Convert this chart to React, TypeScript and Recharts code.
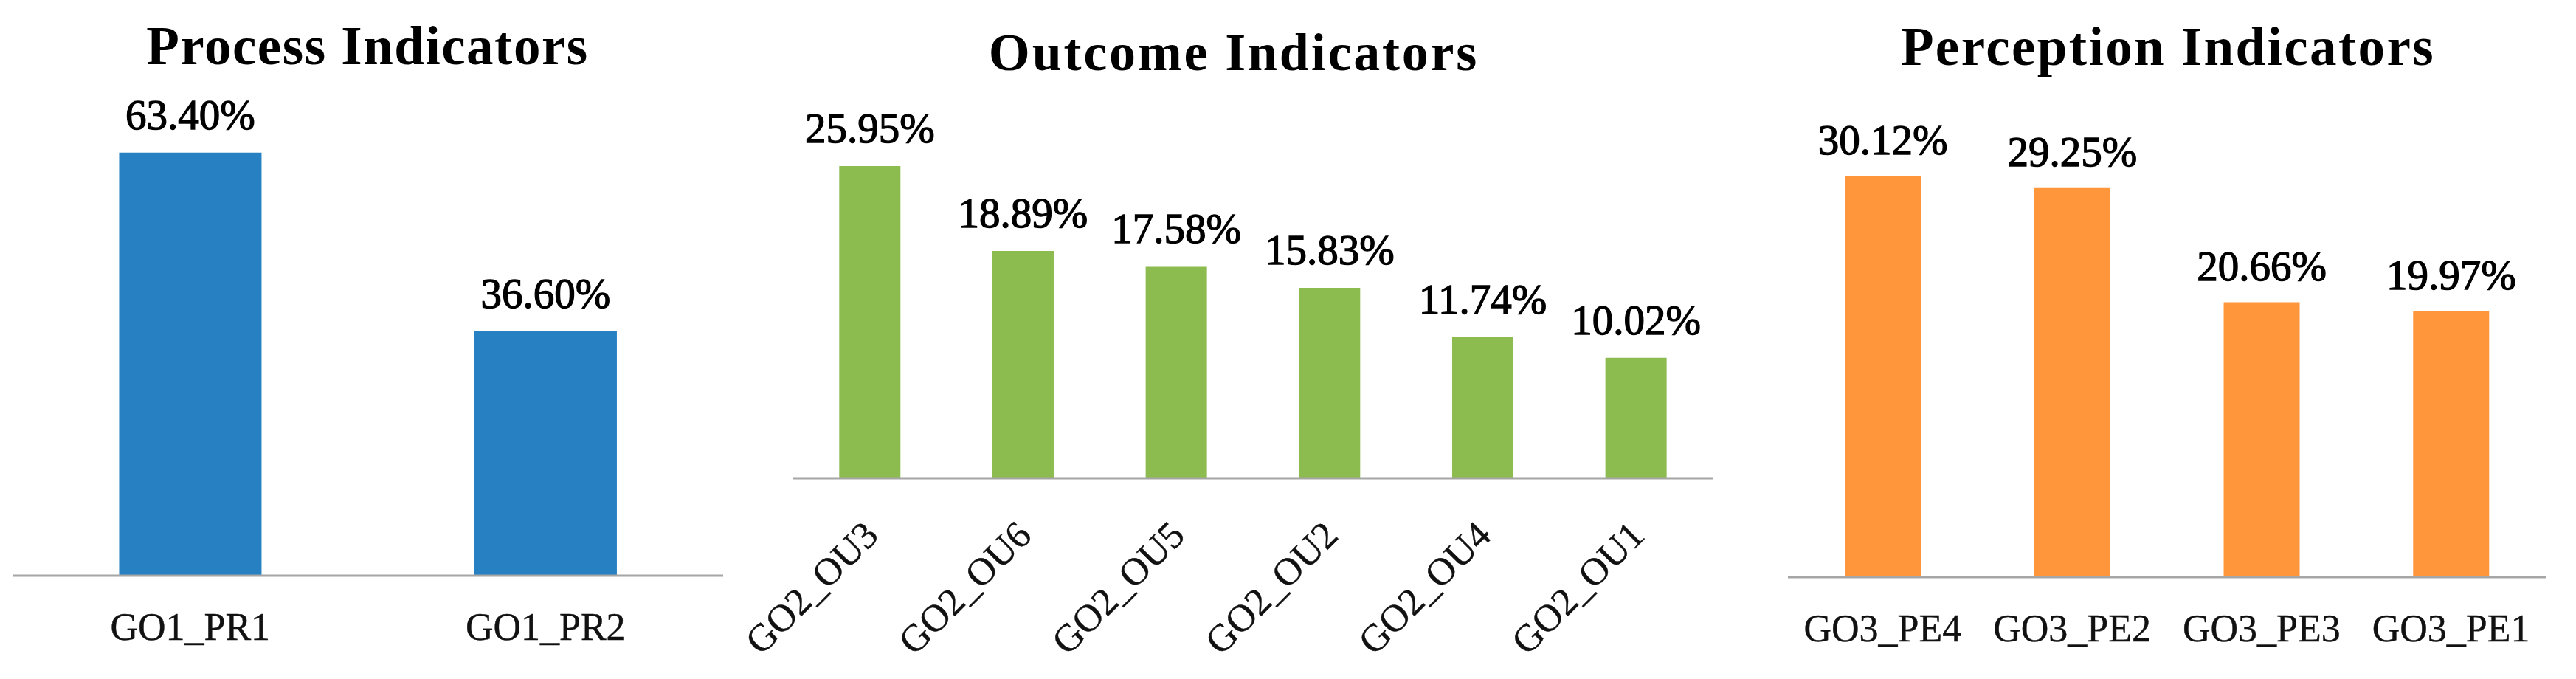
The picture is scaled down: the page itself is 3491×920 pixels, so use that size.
import React from 'react';
import { BarChart, Bar, XAxis, YAxis } from 'recharts';

// ---- Data ----
const processCategories = ['GO1_PR1', 'GO1_PR2'];
const processValues = [63.4, 36.6];

const outcomeCategories = ['GO2_OU3', 'GO2_OU6', 'GO2_OU5', 'GO2_OU2', 'GO2_OU4', 'GO2_OU1'];
const outcomeValues = [25.95, 18.89, 17.58, 15.83, 11.74, 10.02];

const perceptionCategories = ['GO3_PE4', 'GO3_PE2', 'GO3_PE3', 'GO3_PE1'];
const perceptionValues = [30.12, 29.25, 20.66, 19.97];

const titles = ['Process Indicators', 'Outcome Indicators', 'Perception Indicators'];

const build = (cats: string[], vals: number[]) => cats.map((c, i) => ({ name: c, value: vals[i] }));

const processData = build(processCategories, processValues);
const outcomeData = build(outcomeCategories, outcomeValues);
const perceptionData = build(perceptionCategories, perceptionValues);

const FONT = '"Liberation Serif", "Times New Roman", serif';
const AXIS_COLOR = '#A6A6A6';

const FlatTick = (props: any) => {
  const { x, y, payload } = props;
  return (
    <text
      x={Number(x)}
      y={Number(y) + 87}
      textAnchor="middle"
      fontFamily={FONT}
      fontSize={52}
      fill="#111"
      stroke="#111"
      strokeWidth={0.4}
    >
      {payload.value}
    </text>
  );
};

const RotTick = (props: any) => {
  const { x, y, payload } = props;
  const ax = Number(x) + 14;
  const ay = Number(y) + 80;
  return (
    <text
      x={ax}
      y={ay}
      transform={`rotate(-45 ${ax} ${ay})`}
      textAnchor="end"
      fontFamily={FONT}
      fontSize={52}
      fill="#111"
      stroke="#111"
      strokeWidth={0.4}
    >
      {payload.value}
    </text>
  );
};

const makeLabel = (gap: number) => (props: any) => {
  const { x, y, width, value } = props;
  return (
    <text
      x={Number(x) + Number(width) / 2}
      y={Number(y) - gap}
      textAnchor="middle"
      fontFamily={FONT}
      fontSize={57}
      fill="#000"
      stroke="#000"
      strokeWidth={1.3}
    >
      {Number(value).toFixed(2)}%
    </text>
  );
};

type PanelProps = {
  data: { name: string; value: number }[];
  left: number;
  width: number;
  margin: { top: number; right: number; bottom: number; left: number };
  domainMax: number;
  color: string;
  gap: number;
  rotated?: boolean;
};

const Panel = ({ data, left, width, margin, domainMax, color, gap, rotated }: PanelProps) => (
  <div style={{ position: 'absolute', left, top: 0, width, height: 920 }}>
    <BarChart width={width} height={920} data={data} margin={margin} barCategoryGap="30%">
      <XAxis
        dataKey="name"
        height={100}
        tickLine={false}
        tickSize={0}
        tickMargin={0}
        interval={0}
        axisLine={{ stroke: AXIS_COLOR, strokeWidth: 3 }}
        tick={rotated ? RotTick : FlatTick}
      />
      <YAxis hide domain={[0, domainMax]} />
      <Bar dataKey="value" fill={color} isAnimationActive={false} label={makeLabel(gap)} />
    </BarChart>
  </div>
);

const Titles = () => (
  <svg
    width={3491}
    height={920}
    style={{ position: 'absolute', left: 0, top: 0, pointerEvents: 'none' }}
  >
    <text x={498} y={87} textAnchor="middle" fontFamily={FONT} fontWeight="bold" fontSize={73} letterSpacing={1.5} fill="#000">
      {titles[0]}
    </text>
    <text x={1672} y={95} textAnchor="middle" fontFamily={FONT} fontWeight="bold" fontSize={72} letterSpacing={2.8} fill="#000">
      {titles[1]}
    </text>
    <text x={2938} y={88} textAnchor="middle" fontFamily={FONT} fontWeight="bold" fontSize={73} letterSpacing={2.4} fill="#000">
      {titles[2]}
    </text>
  </svg>
);

export default function App() {
  return (
    <div style={{ position: 'absolute', left: 0, top: 0, width: 3491, height: 920, background: '#fff' }}>
      <Panel
        data={processData}
        left={0}
        width={1000}
        margin={{ top: 147, right: 20, bottom: 40, left: 17 }}
        domainMax={70}
        color="#2680C2"
        gap={32}
      />
      <Panel
        data={outcomeData}
        left={1000}
        width={1400}
        margin={{ top: 159, right: 79, bottom: 172, left: 75 }}
        domainMax={30}
        color="#8CBB4F"
        gap={32}
        rotated
      />
      <Panel
        data={perceptionData}
        left={2400}
        width={1091}
        margin={{ top: 151, right: 41, bottom: 38, left: 23 }}
        domainMax={35}
        color="#FF963C"
        gap={30}
      />
      <Titles />
    </div>
  );
}
